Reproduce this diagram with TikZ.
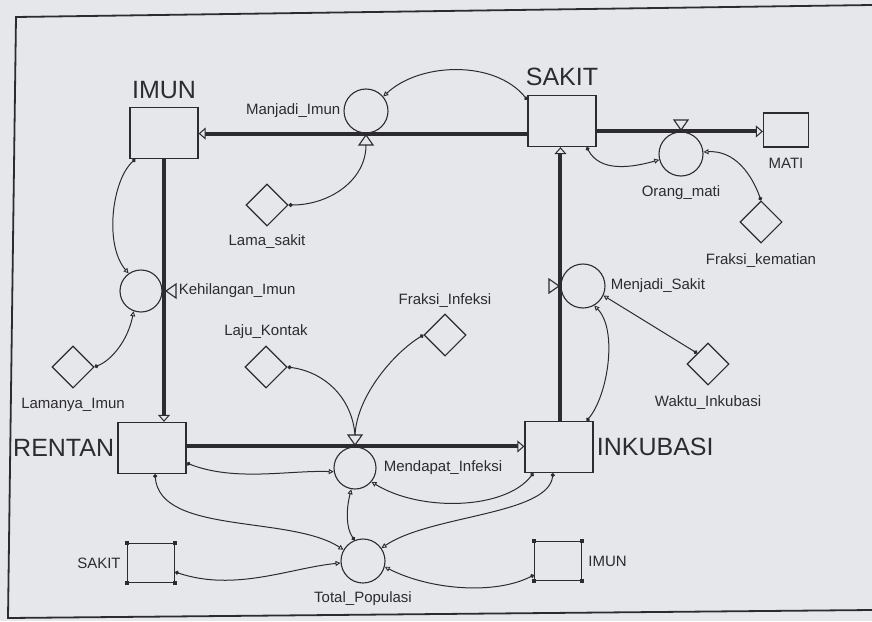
\documentclass[tikz,border=0pt]{standalone}
\usepackage{fontspec}
\setmainfont{Liberation Sans}
\usepackage{tikz}
\usetikzlibrary{arrows.meta,positioning,shapes.geometric}
\definecolor{ink}{HTML}{2C2C30}
\definecolor{paper}{HTML}{E6E7EB}
\begin{document}
\begin{tikzpicture}[x=1pt,y=-1pt,
  big/.style={font=\fontsize{25}{30}\selectfont,text=ink,inner sep=0pt},
  lab/.style={font=\fontsize{15}{18}\selectfont,text=ink,inner sep=0pt},
  stock/.style={draw=ink,line width=1.3pt,minimum width=68pt,minimum height=51pt,inner sep=0pt},
  shadow/.style={draw=ink,line width=1.3pt,minimum width=47pt,minimum height=39pt,inner sep=0pt},
  valve/.style={circle,draw=ink,line width=1.1pt,minimum size=44pt,inner sep=0pt},
  aux/.style={diamond,draw=ink,line width=1.1pt,minimum size=42pt,inner sep=0pt},
  pipe/.style={draw=ink,line width=4pt,-{Triangle[length=7pt,width=12pt,line width=1pt,fill=paper]}},
  conn/.style={draw=ink,line width=1pt,{Circle[length=4pt]}-{Triangle[length=5pt,width=5pt,line width=0.9pt,fill=paper]}},
  link/.style={draw=ink,line width=1pt,{Circle[length=4pt]}-},
  vtri/.style={draw=ink,line width=1.1pt,fill=paper}]
\fill[paper] (0,0) rectangle (872,621);
\useasboundingbox (0,0) rectangle (872,621);
\draw[ink,line width=1.8pt] (872,5) -- (16,17) -- (8,618) -- (872,610);
% stocks
\node[stock] (imun) at (164,133) {};
\node[stock] (sakit) at (562,121) {};
\node[stock] (rentan) at (152,448) {};
\node[stock] (inkubasi) at (559,447) {};
\node[stock,minimum width=45pt,minimum height=34pt] (mati) at (786,130) {};
\node[shadow] (shSakit) at (151,563) {};
\node[shadow] (shImun) at (558,561) {};
\foreach \s in {shSakit,shImun}
  \foreach \c in {north west,north east,south west,south east}
    \fill[ink] ([xshift=-2pt,yshift=-2pt]\s.\c) rectangle ([xshift=2pt,yshift=2pt]\s.\c);
% flows
\node[valve] (mjImun) at (366,111) {};
\node[valve,minimum size=42pt] (khImun) at (141,291) {};
\node[valve] (orMati) at (681,154) {};
\node[valve] (mjSakit) at (583,286) {};
\node[valve,minimum size=42pt] (mdInf) at (355,468) {};
\node[valve] (totPop) at (363,561) {};
% constants
\node[aux] (lamaSakit) at (267,205) {};
\node[aux] (fraksiMati) at (761,222) {};
\node[aux] (lamanyaImun) at (73,367) {};
\node[aux] (lajuKontak) at (266,367) {};
\node[aux] (fraksiInf) at (445,335) {};
\node[aux] (waktuInk) at (708,364) {};
% labels
\node[big,above=8pt of imun] (tImun) {IMUN};
\node[big,above=9pt of sakit] (tSakit) {SAKIT};
\node[big,left=3pt of rentan] (tRentan) {RENTAN};
\node[big,right=3pt of inkubasi] (tInkubasi) {INKUBASI};
\node[lab,below=10pt of mati] (tMati) {MATI};
\node[lab,left=3pt of mjImun] (tMjImun) {Manjadi\_Imun};
\node[lab,right=16pt of khImun] (tKhImun) {Kehilangan\_Imun};
\node[lab,below=9pt of orMati] (tOrMati) {Orang\_mati};
\node[lab,right=5pt of mjSakit] (tMjSakit) {Menjadi\_Sakit};
\node[lab,right=7pt of mdInf] (tMdInf) {Mendapat\_Infeksi};
\node[lab,below=8pt of totPop] (tTotPop) {Total\_Populasi};
\node[lab,below=8pt of lamaSakit] (tLamaSakit) {Lama\_sakit};
\node[lab,below=10pt of fraksiMati] (tFraksiMati) {Fraksi\_kematian};
\node[lab,below=9pt of lamanyaImun] (tLamanyaImun) {Lamanya\_Imun};
\node[lab,above=7pt of lajuKontak] (tLajuKontak) {Laju\_Kontak};
\node[lab,above=6pt of fraksiInf] (tFraksiInf) {Fraksi\_Infeksi};
\node[lab,below=10pt of waktuInk] (tWaktuInk) {Waktu\_Inkubasi};
\node[lab,left=6pt of shSakit] (tShSakit) {SAKIT};
\node[lab,right=6pt of shImun] (tShImun) {IMUN};
% pipes
\draw[pipe] (sakit.west |- mjImun.south) -- (imun.east |- mjImun.south);
\draw[pipe] (imun.south) -- (imun.south |- rentan.north);
\draw[pipe] (rentan.east |- mdInf.north) -- (inkubasi.west |- mdInf.north);
\draw[pipe] (inkubasi.north -| mjSakit.west) -- (sakit.south -| mjSakit.west);
\draw[pipe] (sakit.east |- orMati.north) -- (mati.west |- orMati.north);
\foreach \tx/\ty/\r in {366/135/90,166/291/180,681/130/-90,559/286/0,355/445/-90}
  \draw[vtri,shift={(\tx,\ty)},rotate=\r] (0,0) -- (-10,7) -- (-10,-7) -- cycle;
\coordinate (vImun) at (366,145);
\coordinate (vInf) at (355,435);
% connectors
\draw[conn] ([yshift=-5pt]sakit.north west) .. controls (495,60) and (420,62) .. (mjImun.40);
\draw[link] (lamaSakit.east) .. controls (330,205) and (366,180) .. (vImun);
\draw[conn] ([xshift=6pt]imun.south west) .. controls (112,180) and (104,245) .. (khImun.125);
\draw[conn] (lamanyaImun.east) .. controls (112,360) and (128,340) .. (khImun.-110);
\draw[conn] ([xshift=-10pt]sakit.south east) .. controls (600,172) and (630,168) .. (orMati.195);
\draw[conn] (fraksiMati.north) .. controls (752,175) and (735,150) .. (orMati.5);
\draw[link] (lajuKontak.east) .. controls (325,372) and (352,398) .. (vInf);
\draw[link] (fraksiInf.west) .. controls (395,352) and (357,395) .. (vInf);
\draw[conn] (waktuInk.north west) -- (mjSakit.-25);
\draw[conn] ([xshift=-7pt]inkubasi.north east) .. controls (608,395) and (618,330) .. (mjSakit.-60);
\draw[conn] ([yshift=-15pt]rentan.east) .. controls (235,482) and (290,470) .. (mdInf.190);
\draw[conn] ([xshift=9pt]inkubasi.south west) .. controls (505,510) and (420,512) .. (mdInf.-40);
\draw[conn] (totPop.112) .. controls (346,528) and (346,510) .. (mdInf.-100);
\draw[conn] ([xshift=3pt]rentan.south) .. controls (160,535) and (290,515) .. (totPop.150);
\draw[conn] ([yshift=-9pt]shSakit.east) .. controls (235,592) and (290,568) .. (totPop.185);
\draw[conn] ([xshift=-6pt]inkubasi.south) .. controls (548,515) and (430,515) .. (totPop.35);
\draw[conn] ([yshift=-14pt]shImun.west) .. controls (495,595) and (430,590) .. (totPop.-15);
\end{tikzpicture}
\end{document}
